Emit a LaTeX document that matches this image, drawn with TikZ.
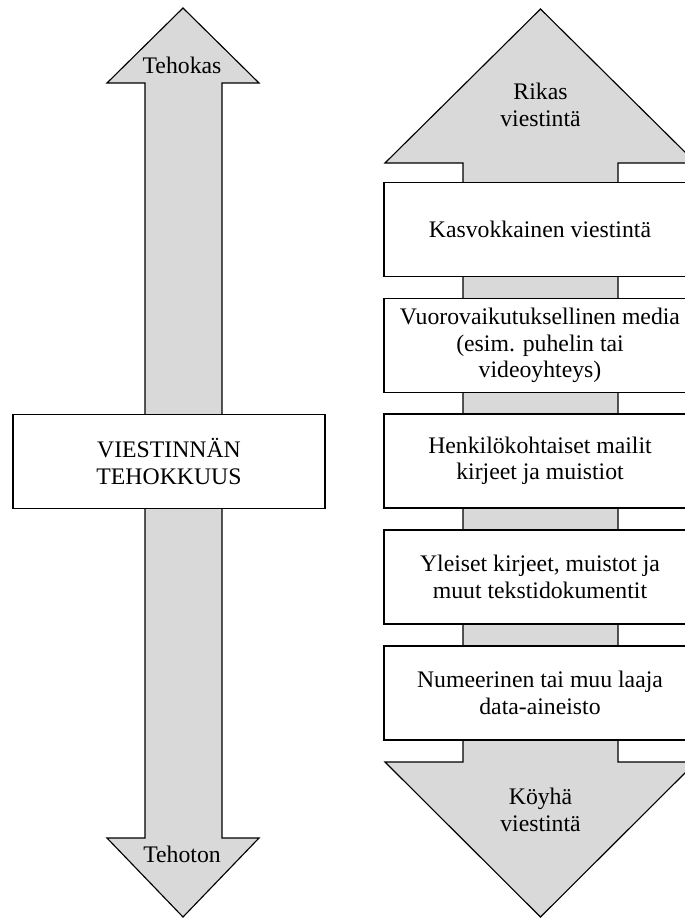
\documentclass[tikz,border=0pt]{standalone}
\usepackage{fontspec}
\setmainfont{Liberation Serif}
\definecolor{arrowgray}{HTML}{D9D9D9}
\begin{document}
\begin{tikzpicture}[x=0.75pt,y=-0.75pt,
  arrowshape/.style={fill=arrowgray,draw=black,line width=0.85pt,line join=miter},
  stagebox/.style={draw=black,fill=white,line width=0.85pt,inner sep=0pt,outer sep=0pt,
    minimum width=234pt,minimum height=71pt,align=center,
    font=\fontsize{17.8}{19.8}\selectfont},
  lbl/.style={inner sep=0pt,align=center,font=\fontsize{17.8}{19.8}\selectfont}]
\useasboundingbox (0,0) rectangle (685,918);
\clip (0,0) rectangle (685,918);
% left arrow
\draw[arrowshape] (183,8) -- (259,83) -- (222,83) -- (222,838) -- (259,838) -- (183,917)
  -- (107,838) -- (145,838) -- (145,83) -- (107,83) -- cycle;
% right arrow
\draw[arrowshape] (540.5,9) -- (696,163) -- (618,163) -- (618,762) -- (696,762) -- (540.5,917)
  -- (385,762) -- (463,762) -- (463,163) -- (385,163) -- cycle;
% labels on arrows
\node[lbl] (tehokas) at (182,65) {Tehokas};
\node[lbl] (tehoton) at (182,854) {Tehoton};
\node[lbl] (rikas) at (540.5,105) {Rikas\\viestintä};
\node[lbl] (koyha) at (540.5,810) {Köyhä\\viestintä};
% left box
\node[stagebox] (tehokkuus) at (169,461.5) {VIESTINNÄN\\TEHOKKUUS};
% right boxes
\node[stagebox] (b1) at (540,229.5) {Kasvokkainen viestintä};
\node[stagebox] (b2) at (540,345.5) {Vuorovaikutuksellinen media\\(esim. puhelin tai\\videoyhteys)};
\node[stagebox,minimum height=70.5pt] (b3) at (540,461) {Henkilökohtaiset mailit\\kirjeet ja muistiot};
\node[stagebox,minimum height=70.5pt] (b4) at (540,577) {Yleiset kirjeet, muistot ja\\muut tekstidokumentit};
\node[stagebox,minimum height=70.5pt] (b5) at (540,693) {Numeerinen tai muu laaja\\data-aineisto};
\end{tikzpicture}
\end{document}
